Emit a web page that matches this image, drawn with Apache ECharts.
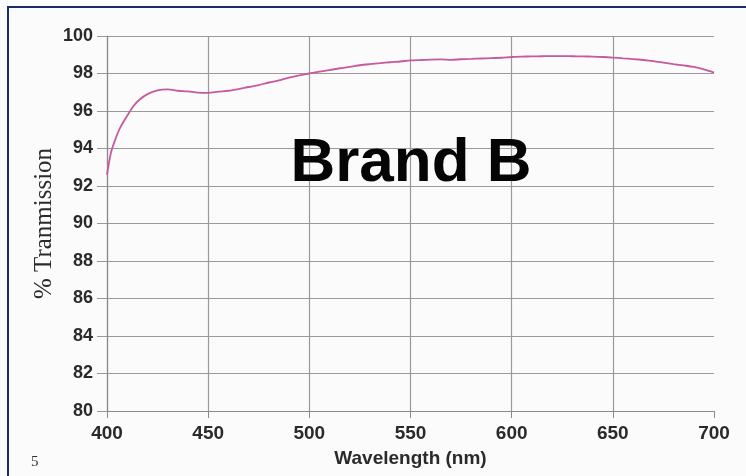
<!DOCTYPE html>
<html>
<head>
<meta charset="utf-8">
<title>Brand B transmission</title>
<script src="https://cdn.jsdelivr.net/npm/echarts@6/dist/echarts.min.js"></script>
<style>
  html, body { margin: 0; padding: 0; background: #fbfbfb; }
  #chart { width: 746px; height: 476px; }
</style>
</head>
<body>
<div id="chart"></div>
<script>
// wavelength (nm) and % transmission
const wavelengths = [
  400, 402, 404, 406, 408, 410, 413, 416, 420, 425, 430, 435, 440, 445, 450,
  455, 460, 465, 470, 475, 480, 485, 490, 495, 500, 505, 510, 515, 520, 525,
  530, 535, 540, 545, 550, 555, 560, 565, 570, 575, 580, 585, 590, 595, 600,
  605, 610, 615, 620, 625, 630, 635, 640, 645, 650, 655, 660, 665, 670, 675,
  680, 685, 690, 695, 700,
];
const transmission = [
  92.6, 93.8, 94.45, 95.0, 95.4, 95.75, 96.25, 96.6, 96.9, 97.1, 97.15, 97.08, 97.05, 96.98, 96.97,
  97.03, 97.08, 97.17, 97.28, 97.38, 97.52, 97.63, 97.78, 97.9, 98.0, 98.1, 98.18, 98.28, 98.35, 98.44,
  98.5, 98.55, 98.6, 98.64, 98.7, 98.72, 98.74, 98.75, 98.73, 98.76, 98.78, 98.8, 98.82, 98.84, 98.88,
  98.9, 98.91, 98.92, 98.93, 98.93, 98.92, 98.91, 98.9, 98.88, 98.85, 98.81, 98.77, 98.72, 98.66, 98.58,
  98.5, 98.43, 98.35, 98.22, 98.05,
];
const xTicks = [400, 450, 500, 550, 600, 650, 700];
const yTicks = [80, 82, 84, 86, 88, 90, 92, 94, 96, 98, 100];

const points = wavelengths.map((w, i) => [w, transmission[i]]);

const chart = echarts.init(document.getElementById('chart'));
chart.setOption({
  backgroundColor: '#fbfbfb',
  animation: false,
  grid: { left: 107, right: 32, top: 36, bottom: 65 },
  graphic: [
    // slide frame (top and left edges visible)
    {
      type: 'rect',
      shape: { x: 8, y: 7, width: 800, height: 500 },
      style: { fill: 'none', stroke: '#1d2b6b', lineWidth: 2 },
      z: 0,
    },
    {
      type: 'text',
      x: 411,
      y: 164,
      style: {
        text: 'Brand B',
        fill: '#050505',
        font: 'bold 62px "Liberation Sans", Arial, sans-serif',
        textAlign: 'center',
        textVerticalAlign: 'middle',
      },
      z: 10,
    },
    {
      type: 'text',
      x: 31,
      y: 455,
      style: {
        text: '5',
        fill: '#333',
        font: '15px "Liberation Serif", "Times New Roman", serif',
      },
    },
  ],
  xAxis: {
    type: 'value',
    min: xTicks[0],
    max: xTicks[xTicks.length - 1],
    interval: 50,
    name: 'Wavelength (nm)',
    nameLocation: 'middle',
    nameGap: 38,
    nameTextStyle: {
      color: '#2a2a2a',
      fontSize: 19,
      fontWeight: 'bold',
      fontFamily: '"Liberation Sans", Arial, sans-serif',
    },
    axisLine: { show: true, lineStyle: { color: '#8a8a8a', width: 1.2 } },
    axisTick: { show: true, length: 7, lineStyle: { color: '#8a8a8a' } },
    axisLabel: {
      margin: 13,
      color: '#2a2a2a',
      fontSize: 19,
      fontWeight: 'bold',
      fontFamily: '"Liberation Sans", Arial, sans-serif',
    },
    splitLine: {
      show: true,
      showMaxLine: false,
      lineStyle: { color: '#9a9a9a', width: 1.2 },
    },
  },
  yAxis: {
    type: 'value',
    min: yTicks[0],
    max: yTicks[yTicks.length - 1],
    interval: 2,
    name: '% Tranmission',
    nameLocation: 'middle',
    nameGap: 50,
    nameMoveOverlap: false,
    nameRotate: 90,
    nameTextStyle: {
      color: '#2a2a2a',
      fontSize: 25,
      fontFamily: '"Liberation Serif", "Times New Roman", serif',
    },
    axisLine: { show: true, lineStyle: { color: '#8a8a8a', width: 1.2 } },
    axisTick: { show: true, length: 10, lineStyle: { color: '#9a9a9a' } },
    axisLabel: {
      margin: 14,
      color: '#2a2a2a',
      fontSize: 18,
      fontWeight: 'bold',
      fontFamily: '"Liberation Sans", Arial, sans-serif',
    },
    splitLine: { show: true, lineStyle: { color: '#9a9a9a', width: 1.2 } },
  },
  series: [
    {
      type: 'line',
      data: points,
      showSymbol: false,
      smooth: 0.3,
      lineStyle: { color: '#c65a9c', width: 1.8 },
      z: 5,
    },
  ],
});
</script>
</body>
</html>
